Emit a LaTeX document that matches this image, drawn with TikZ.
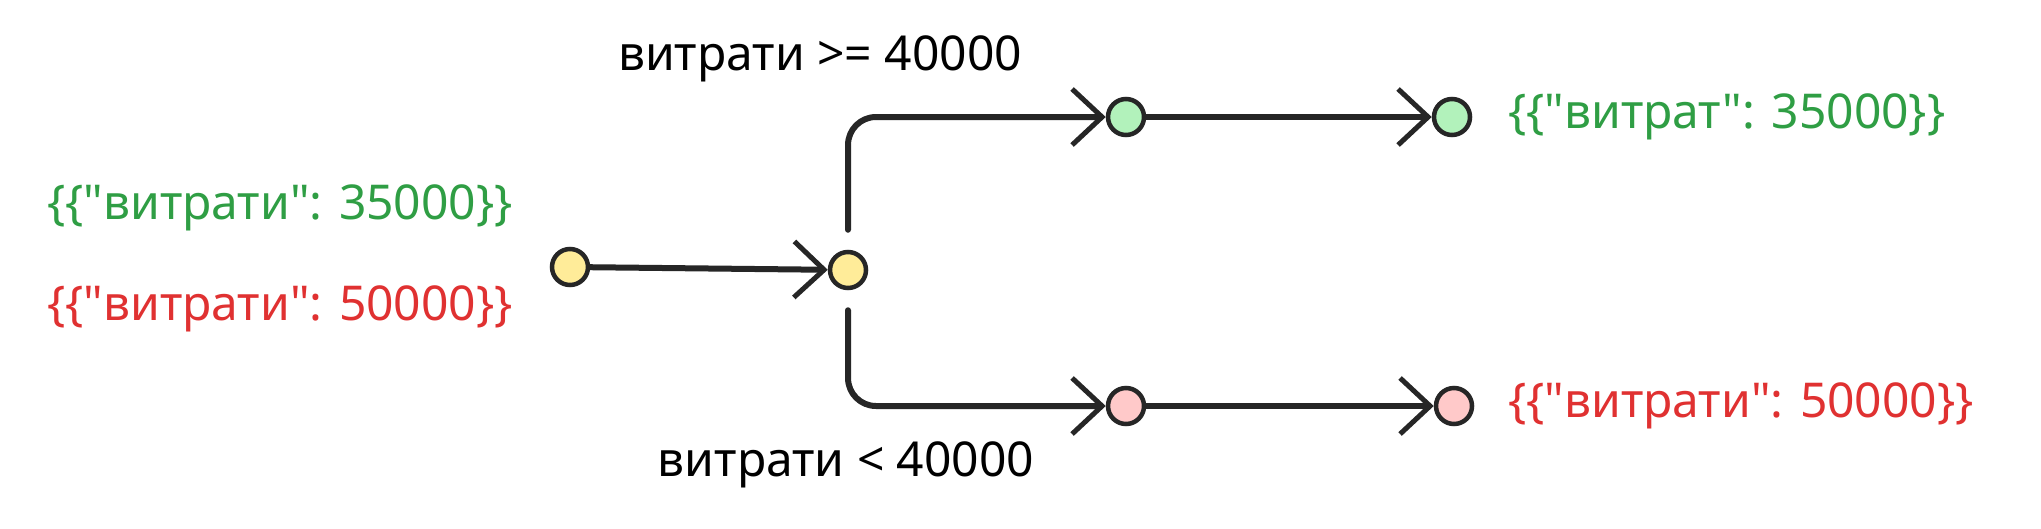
\documentclass[tikz,border=0pt]{standalone}
\usepackage{fontspec}
\setmainfont{Noto Sans}[Ligatures=TeXOff]
\usetikzlibrary{arrows.meta}
\definecolor{tg}{HTML}{2F9E44}
\definecolor{tr}{HTML}{E03131}
\definecolor{fy}{HTML}{FFEC99}
\definecolor{fg}{HTML}{B2F2BB}
\definecolor{fp}{HTML}{FFC9C9}
\begin{document}
\begin{tikzpicture}[x=1pt,y=-1pt,
 dot/.style={circle,draw=black!85,line width=4.5pt,minimum size=36pt,inner sep=0pt},
 arr/.style={line width=6pt,draw=black!85,line cap=round,line join=round,-{Straight Barb[length=30pt,width=56pt,line width=5pt]}},
 lbl/.style={font=\fontsize{48}{52}\selectfont,inner sep=0pt}]
\path[use as bounding box,fill=white] (0,0) rectangle (2041,528);
\node[dot,fill=fy] (a) at (570,267) {};
\node[dot,fill=fy] (b) at (848,270) {};
\node[dot,fill=fg] (g1) at (1126,117) {};
\node[dot,fill=fg] (g2) at (1452,117) {};
\node[dot,fill=fp] (p1) at (1126,406) {};
\node[dot,fill=fp] (p2) at (1454,406) {};
\node[lbl,text=tg] (l1) at (280,208) {\{\{"витрати": 35000\}\}};
\node[lbl,text=tr] (l2) at (280,309) {\{\{"витрати": 50000\}\}};
\node[lbl] (t1) at (820,59) {витрати >= 40000};
\node[lbl] (t2) at (846,465) {витрати < 40000};
\node[lbl,text=tg,anchor=west] (r1) at (1508,117) {\{\{"витрат": 35000\}\}};
\node[lbl,text=tr,anchor=west] (r2) at (1508,406) {\{\{"витрати": 50000\}\}};
\draw[arr] (a) -- (b);
\draw[arr,rounded corners=28pt] (b.north) ++(0,-20) coordinate (bt) (bt) -- (bt |- g1) -- (g1.west);
\draw[arr,rounded corners=28pt] (b.south) ++(0,20) coordinate (bb) (bb) -- (bb |- p1) -- (p1.west);
\draw[arr] (g1) -- (g2);
\draw[arr] (p1) -- (p2);
\end{tikzpicture}
\end{document}
